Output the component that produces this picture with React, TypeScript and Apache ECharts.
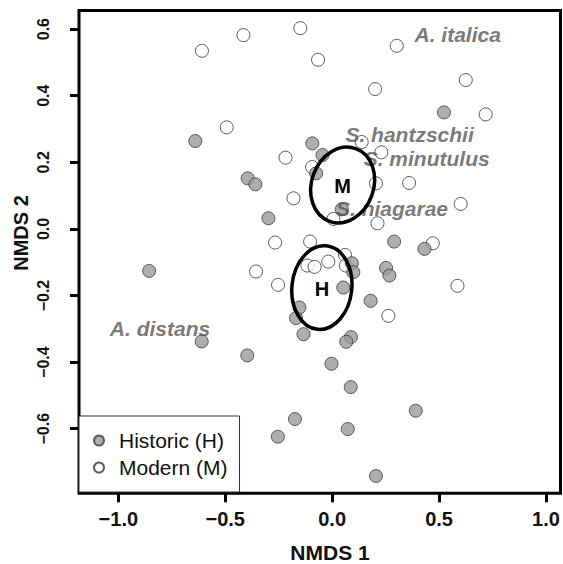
import React, { useEffect, useRef } from "react";
import * as echarts from "echarts";

// Site scores (NMDS 1, NMDS 2)
const historicX = [-0.640, -0.093, -0.045, -0.395, -0.359, -0.075, -0.298, 0.523, 0.045, 0.290, 0.432, 0.092, 0.099, 0.252, 0.268, 0.052, 0.180, -0.153, -0.169, -0.134, 0.088, 0.066, -0.003, 0.087, 0.391, -0.174, 0.073, -0.254, 0.205, -0.856, -0.610, -0.397];
const historicY = [0.264, 0.257, 0.222, 0.152, 0.134, 0.167, 0.032, 0.350, 0.059, -0.038, -0.060, -0.103, -0.130, -0.117, -0.140, -0.176, -0.216, -0.236, -0.268, -0.316, -0.325, -0.339, -0.405, -0.475, -0.546, -0.571, -0.601, -0.624, -0.742, -0.126, -0.338, -0.380];

const modernX = [-0.609, -0.415, -0.149, -0.066, 0.302, 0.625, 0.201, 0.718, -0.493, -0.218, 0.138, 0.230, -0.094, 0.205, 0.360, -0.181, 0.601, 0.006, 0.212, -0.267, -0.103, 0.471, 0.060, -0.116, -0.082, -0.018, 0.064, -0.356, -0.253, 0.586, 0.263];
const modernY = [0.535, 0.582, 0.603, 0.508, 0.550, 0.447, 0.420, 0.344, 0.305, 0.214, 0.261, 0.230, 0.186, 0.137, 0.138, 0.092, 0.075, 0.030, 0.017, -0.041, -0.038, -0.043, -0.078, -0.110, -0.114, -0.098, -0.110, -0.128, -0.168, -0.171, -0.261];

// Species scores
const speciesNames = ["A. italica", "S. hantzschii", "S. minutulus", "S. niagarae", "A. distans"];
const speciesX = [0.587, 0.362, 0.442, 0.280, -0.805];
const speciesY = [0.583, 0.285, 0.213, 0.060, -0.300];

// Group ellipses: centre, semi-axis (x units), semi-axis (y units), tilt (deg)
const ellipseNames = ["M", "H"];
const ellipseCX = [0.049, -0.048];
const ellipseCY = [0.132, -0.176];
const ellipseRX = [0.145, 0.140];
const ellipseRY = [0.116, 0.126];
const ellipseTilt = [-20, -6];

const xTicks = [-1.0, -0.5, 0.0, 0.5, 1.0];
const yTicks = [-0.6, -0.4, -0.2, 0.0, 0.2, 0.4, 0.6];

const FONT = "'Liberation Sans', Arial, Helvetica, sans-serif";
const fmt = (v: number) => (v < -1e-9 ? "\u2212" : "") + Math.abs(v).toFixed(1);

export default function App() {
  const ref = useRef<HTMLDivElement>(null);
  useEffect(() => {
    if (!ref.current) return;
    const chart = echarts.init(ref.current, undefined, { renderer: "svg" });
    const hist = historicX.map((x, i) => [x, historicY[i]]);
    const mod = modernX.map((x, i) => [x, modernY[i]]);
    const spp = speciesX.map((x, i) => ({ value: [x, speciesY[i]], name: speciesNames[i] }));
    const ell = ellipseNames.map((n, i) => ({
      value: [ellipseCX[i], ellipseCY[i], ellipseRX[i], ellipseRY[i], ellipseTilt[i]],
      name: n,
    }));
    chart.setOption({
      animation: false,
      backgroundColor: "#ffffff",
      grid: {
        left: 79,
        top: 10.5,
        right: 2.5,
        bottom: 70.7,
        show: true,
        borderColor: "#000",
        borderWidth: 3,
        backgroundColor: "transparent",
      },
      xAxis: {
        type: "value",
        min: -1.184,
        max: 1.068,
        splitLine: { show: false },
        axisLine: { show: false, onZero: false },
        axisTick: {
          show: true,
          customValues: xTicks,
          length: 9,
          lineStyle: { color: "#000", width: 3 },
        },
        axisLabel: {
          customValues: xTicks,
          formatter: fmt,
          fontFamily: FONT,
          fontWeight: "bold",
          fontSize: 20,
          color: "#111",
          margin: 16,
        },
      },
      yAxis: {
        type: "value",
        min: -0.794,
        max: 0.656,
        splitLine: { show: false },
        axisLine: { show: false, onZero: false },
        axisTick: {
          show: true,
          customValues: yTicks,
          length: 9,
          lineStyle: { color: "#000", width: 3 },
        },
        axisLabel: {
          customValues: yTicks,
          formatter: fmt,
          rotate: 90,
          fontFamily: FONT,
          fontWeight: "bold",
          fontSize: 16,
          color: "#111",
          margin: 28,
        },
      },
      legend: {
        data: ["Historic (H)", "Modern (M)"],
        orient: "vertical",
        left: 79,
        top: 416,
        padding: [14, 12, 14, 14],
        itemGap: 6,
        itemWidth: 10,
        itemHeight: 10,
        backgroundColor: "#fff",
        borderColor: "#333",
        borderWidth: 1,
        borderRadius: 0,
        textStyle: {
          fontFamily: FONT,
          fontSize: 21,
          color: "#111",
          padding: [0, 0, 0, 10],
        },
      },
      graphic: [
        {
          type: "text",
          x: 330,
          y: 552,
          style: {
            text: "NMDS 1",
            fontFamily: FONT,
            fontWeight: "bold",
            fontSize: 21,
            fill: "#111",
            align: "center",
            verticalAlign: "middle",
          },
        },
        {
          type: "text",
          x: 21,
          y: 233,
          rotation: Math.PI / 2,
          style: {
            text: "NMDS 2",
            fontFamily: FONT,
            fontWeight: "bold",
            fontSize: 20,
            fill: "#111",
            align: "center",
            verticalAlign: "middle",
          },
        },
      ],
      series: [
        {
          name: "Modern (M)",
          type: "scatter",
          data: mod,
          symbol: "circle",
          symbolSize: 13,
          itemStyle: { color: "#ffffff", borderColor: "#333", borderWidth: 1 },
          z: 2,
        },
        {
          name: "Historic (H)",
          type: "scatter",
          data: hist,
          symbol: "circle",
          symbolSize: 13,
          itemStyle: { color: "#9a9a9a", borderColor: "#3a3a3a", borderWidth: 1 },
          z: 3,
        },
        {
          name: "species",
          type: "scatter",
          data: spp,
          symbol: "circle",
          symbolSize: 1,
          itemStyle: { color: "transparent" },
          label: {
            show: true,
            position: "inside",
            formatter: (p: any) => p.name,
            fontFamily: FONT,
            fontWeight: "bold",
            fontStyle: "italic",
            fontSize: 21,
            lineHeight: 22,
            color: "#555",
          },
          z: 4,
        },
        {
          name: "ellipses",
          type: "custom",
          data: ell,
          z: 5,
          renderItem: (params: any, api: any) => {
            const c = api.coord([api.value(0), api.value(1)]);
            const rx = api.size([api.value(2), 0])[0];
            const ry = api.size([0, api.value(3)])[1];
            const rot = (api.value(4) * Math.PI) / 180;
            return {
              type: "group",
              children: [
                {
                  type: "ellipse",
                  x: c[0],
                  y: c[1],
                  rotation: rot,
                  shape: { cx: 0, cy: 0, rx, ry },
                  style: { fill: "none", stroke: "#000", lineWidth: 3.5 },
                },
                {
                  type: "text",
                  x: c[0],
                  y: c[1] + 1,
                  style: {
                    text: ellipseNames[params.dataIndex],
                    fontFamily: FONT,
                    fontWeight: "bold",
                    fontSize: 20,
                    fill: "#000",
                    align: "center",
                    verticalAlign: "middle",
                  },
                },
              ],
            };
          },
        },
      ],
    });
    return () => chart.dispose();
  }, []);
  return (
    <div
      ref={ref}
      style={{ position: "fixed", left: 0, top: 0, width: 563, height: 564 }}
    />
  );
}
